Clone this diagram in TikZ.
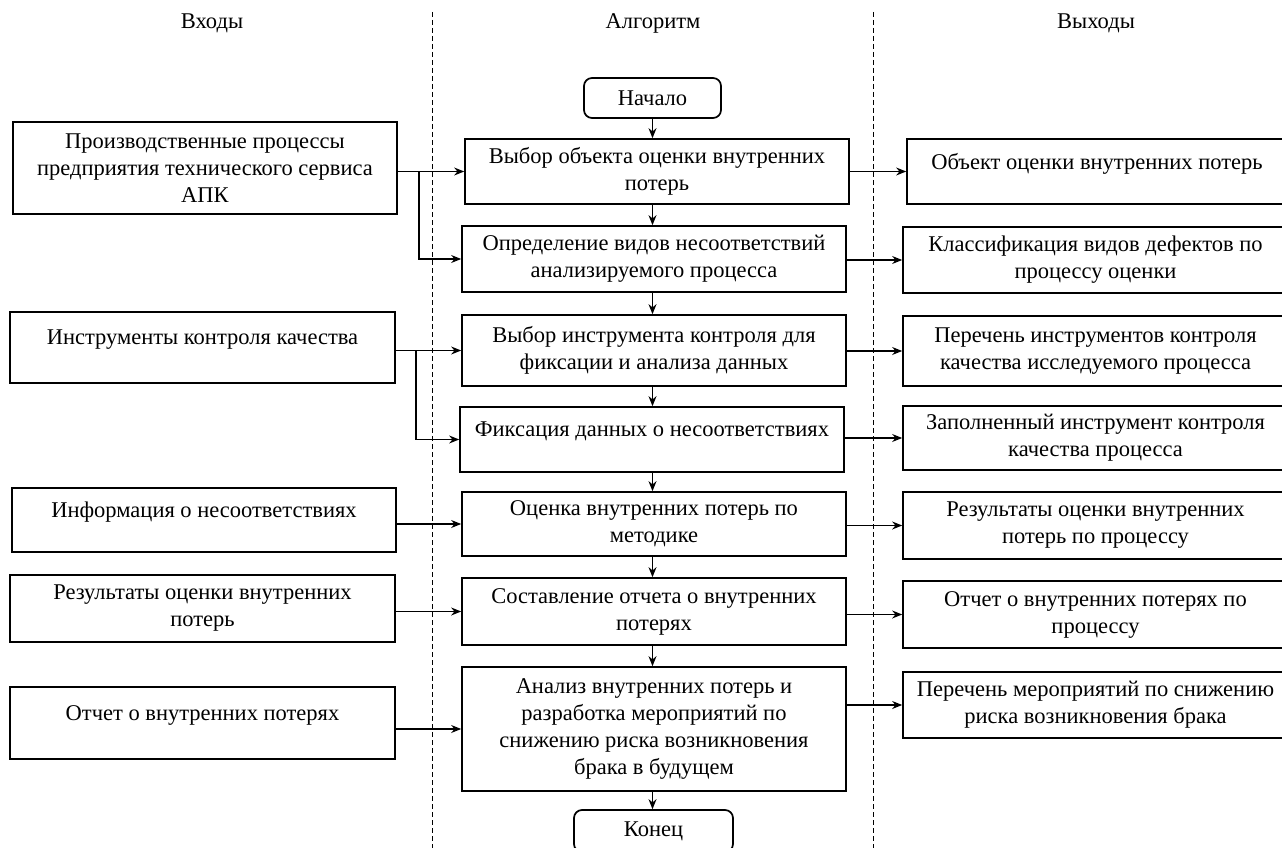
\documentclass[tikz,border=0pt]{standalone}
\usepackage{fontspec}
\setmainfont{Liberation Serif}
\usetikzlibrary{arrows.meta}
\newcommand\fs{\fontsize{22.5}{27}\selectfont}
\newcommand\up[1]{\raisebox{8pt}[\height][\depth]{#1}}
\begin{document}
\begin{tikzpicture}[x=1pt,y=-1pt,
  box/.style={draw, line width=1.7pt, inner sep=0pt, align=center, font=\fs},
  term/.style={box, rounded corners=8pt},
  head/.style={font=\fs, inner sep=0pt},
  arr/.style={-{Stealth[length=10pt,width=8pt]}, line width=1.4pt},
  sep/.style={line width=1pt, dash pattern=on 5pt off 3pt}]
\clip (0,0) rectangle (1282,848);
\fill[white] (0,0) rectangle (1282,848);
% headers
\node[head] (h1) at (212,23) {Входы};
\node[head] (h2) at (653,23) {Алгоритм};
\node[head] (h3) at (1096,23) {Выходы};
% separators
\draw[sep] (432,12) -- (432,848);
\draw[sep] (873,12) -- (873,848);
% algorithm
\node[term, minimum width=137, minimum height=40] (start) at (652.5,98) {Начало};
\node[box, minimum width=384, minimum height=65] (b1) at (657,171.5) {Выбор объекта оценки внутренних\\потерь};
\node[box, minimum width=384, minimum height=66] (b2) at (654,259) {Определение видов несоответствий\\анализируемого процесса};
\node[box, minimum width=384, minimum height=71] (b3) at (654,350.5) {Выбор инструмента контроля для\\фиксации и анализа данных};
\node[box, minimum width=384, minimum height=65] (b4) at (652,439.5) {\up{Фиксация данных о несоответствиях}};
\node[box, minimum width=384, minimum height=64] (b5) at (654,524) {Оценка внутренних потерь по\\методике};
\node[box, minimum width=384, minimum height=67] (b6) at (654,611.5) {Составление отчета о внутренних\\потерях};
\node[box, minimum width=384, minimum height=124] (b7) at (654,729) {Анализ внутренних потерь и\\разработка мероприятий по\\снижению риска возникновения\\брака в будущем};
\node[term, minimum width=159, minimum height=42] (end) at (653.5,831) {Конец};
% inputs
\node[box, minimum width=384, minimum height=92] (l1) at (205,168) {Производственные процессы\\предприятия технического сервиса\\АПК};
\node[box, minimum width=385, minimum height=71] (l2) at (202.5,347.5) {\up{Инструменты контроля качества}};
\node[box, minimum width=384, minimum height=64] (l3) at (204,520) {\up{Информация о несоответствиях}};
\node[box, minimum width=385, minimum height=67] (l4) at (202.5,608.5) {Результаты оценки внутренних\\потерь};
\node[box, minimum width=385, minimum height=72] (l5) at (202.5,723) {\up{Отчет о внутренних потерях}};
% outputs
\node[box, minimum width=380, minimum height=65] (r1) at (1097,171.5) {\up{Объект оценки внутренних потерь}};
\node[box, minimum width=385, minimum height=66] (r2) at (1095.5,260) {Классификация видов дефектов по\\процессу оценки};
\node[box, minimum width=385, minimum height=70] (r3) at (1095.5,351) {Перечень инструментов контроля\\качества исследуемого процесса};
\node[box, minimum width=385, minimum height=64] (r4) at (1095.5,438) {Заполненный инструмент контроля\\качества процесса};
\node[box, minimum width=385, minimum height=67] (r5) at (1095.5,525.5) {Результаты оценки внутренних\\потерь по процессу};
\node[box, minimum width=385, minimum height=67] (r6) at (1095.5,614.5) {Отчет о внутренних потерях по\\процессу};
\node[box, minimum width=385, minimum height=66] (r7) at (1095.5,705) {Перечень мероприятий по снижению\\риска возникновения брака};
% vertical flow
\draw[arr] (start.south) -- (start.south |- b1.north);
\draw[arr] (b1.south -| start.south) -- (start.south |- b2.north);
\draw[arr] (b2.south -| start.south) -- (start.south |- b3.north);
\draw[arr] (b3.south -| start.south) -- (start.south |- b4.north);
\draw[arr] (b4.south -| start.south) -- (start.south |- b5.north);
\draw[arr] (b5.south -| start.south) -- (start.south |- b6.north);
\draw[arr] (b6.south -| start.south) -- (start.south |- b7.north);
\draw[arr] (b7.south -| start.south) -- (start.south |- end.north);
% inputs to algorithm
\draw[arr] (l1.east |- b1.west) -- (b1.west);
\draw[arr] ([xshift=21pt]l1.east |- b1.west) |- (b2.west);
\draw[arr] (l2.east |- b3.west) -- (b3.west);
\draw[arr] ([xshift=20pt]l2.east |- b3.west) |- (b4.west);
\draw[arr] (l3.east |- b5.west) -- (b5.west);
\draw[arr] (l4.east |- b6.west) -- (b6.west);
\draw[arr] (l5.east |- b7.west) -- (b7.west);
% algorithm to outputs
\draw[arr] (b1.east |- r1.west) -- (r1.west);
\draw[arr] (b2.east |- r2.west) -- (r2.west);
\draw[arr] (b3.east |- r3.west) -- (r3.west);
\draw[arr] (b4.east |- r4.west) -- (r4.west);
\draw[arr] (b5.east |- r5.west) -- (r5.west);
\draw[arr] (b6.east |- r6.west) -- (r6.west);
\draw[arr] (b7.east |- r7.west) -- (r7.west);
\end{tikzpicture}
\end{document}
